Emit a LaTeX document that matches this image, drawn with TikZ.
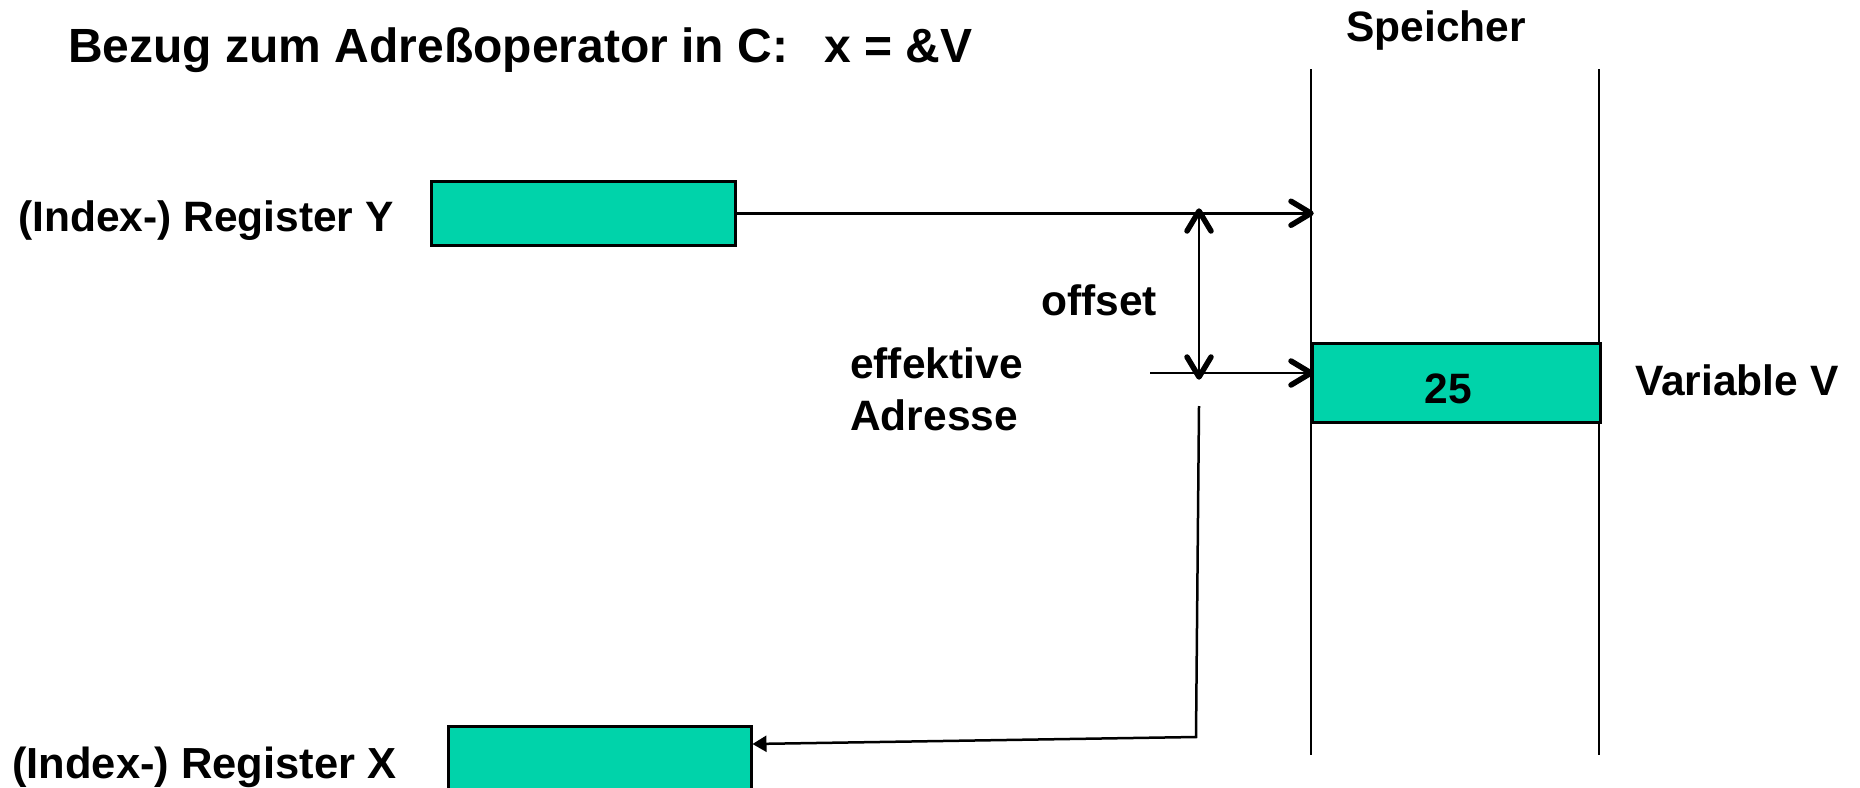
\documentclass[tikz,border=0pt]{standalone}
\usepackage{fontspec}
\setmainfont{Liberation Sans}
\usetikzlibrary{arrows.meta}
\definecolor{boxgreen}{RGB}{0,211,170}
\newcommand\mybarb[2]{\draw[barbline, shift={(#1)}, rotate=#2] (-20,-12) -- (0,0) -- (-20,12);}
\begin{document}
\begin{tikzpicture}[x=1pt,y=-1pt,
  lbl/.style={font=\fontsize{42.5}{52}\selectfont\bfseries, inner sep=0pt},
  lblx/.style={font=\fontsize{43.5}{52}\selectfont\bfseries, inner sep=0pt},
  ttl/.style={font=\fontsize{48}{54}\selectfont\bfseries, inner sep=0pt},
  regbox/.style={draw, fill=boxgreen, line width=2.5pt, inner sep=0pt, anchor=north west},
  ln/.style={line width=2.5pt},
  barbline/.style={line width=5.5pt, line cap=round, line join=round},
  tri/.style={-{Triangle[length=14pt,width=16pt]}}
]
\clip (0,0) rectangle (1860,787);

% title
\node[ttl, anchor=west] (title) at (68,50) {Bezug zum Adreßoperator in C:\hspace{36pt}x = \&V};
\node[lbl] (speicher) at (1436,31) {Speicher};

% memory lines
\coordinate (memLt) at (1311,69);
\coordinate (memLb) at (1311,755);
\coordinate (memRt) at (1599,69);
\coordinate (memRb) at (1599,755);
\draw[ln] (memLt) -- (memLb);
\draw[ln] (memRt) -- (memRb);

% variable V
\node[regbox, minimum width=288pt, minimum height=79pt] (varV) at (1311,342) {};
\node[lbl] (val) at (1448,389) {25};
\node[lbl, anchor=west] (varlbl) at (1635,380) {Variable V};

% registers
\node[regbox, minimum width=304pt, minimum height=64pt] (regY) at (430,180) {};
\node[lbl, anchor=west] (regYlbl) at (18,221) {(Index-) Register Y};
\node[regbox, minimum width=303pt, minimum height=90pt] (regX) at (447,725) {};
\node[lblx, anchor=west] (regXlbl) at (12,767) {(Index-) Register X};

% labels
\node[lbl, anchor=west] (offlbl) at (1041,300) {offset};
\node[lbl, anchor=west, align=left] (efflbl) at (850,389) {effektive\\Adresse};

% connectors
\coordinate (yEnd) at (regY.east -| memLt);
\draw[ln] (regY.east) -- (yEnd);
\mybarb{yEnd}{0}
\coordinate (effS) at (1150,373);
\coordinate (effE) at (effS -| memLt);
\draw[ln] (effS) -- (effE);
\mybarb{effE}{0}
\coordinate (offT) at (1199,211);
\coordinate (offB) at (1199,377);
\draw[ln] (offT) -- (offB);
\mybarb{offT}{90}
\mybarb{offB}{-90}
\coordinate (xs) at (1199,406);
\coordinate (xc) at (1196,737);
\draw[ln, tri] (xs) -- (xc) -- ([yshift=-19pt]regX.north east);
\end{tikzpicture}
\end{document}
